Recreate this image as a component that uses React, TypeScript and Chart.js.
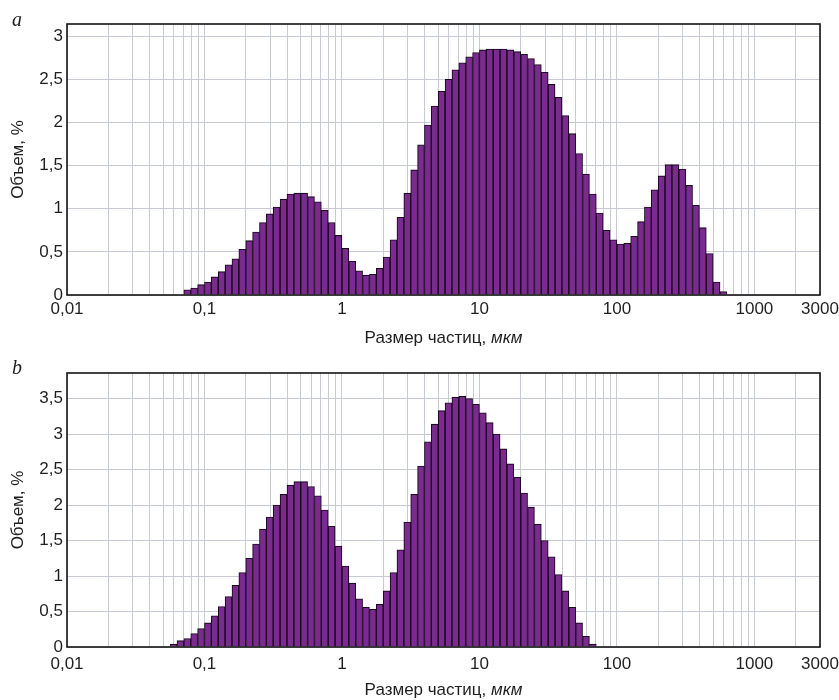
import React, { useEffect, useRef } from 'react';
import { Chart, registerables } from 'chart.js';

Chart.register(...registerables);

// ---- data -------------------------------------------------------------
// Size grid of the analyser: log-spaced bins, 20 bins per decade from 0.01 µm
const LOG_MIN = -2; // log10(0.01)
const BIN_STEP = 0.05; // decades per bin
const X_MIN = 0.01;
const X_MAX = 3000;
const X_LABELS = [0.01, 0.1, 1, 10, 100, 1000, 3000];
const GRID_DECADES = [-2, -1, 0, 1, 2, 3];
const GRID_MULTIPLIERS = [1, 2, 3, 4, 5, 6, 7, 8, 9];

// panel a: index of first non-empty bin and volume % per bin
const FIRST_BIN_A = 17;
const VOLUME_A = [
  0.06, 0.08, 0.12, 0.15, 0.21, 0.27, 0.35, 0.42, 0.53, 0.63,
  0.73, 0.84, 0.94, 1.02, 1.11, 1.17, 1.18, 1.18, 1.14, 1.08,
  0.98, 0.84, 0.69, 0.54, 0.39, 0.28, 0.23, 0.24, 0.31, 0.44,
  0.64, 0.90, 1.18, 1.45, 1.74, 1.97, 2.19, 2.36, 2.50, 2.61,
  2.69, 2.76, 2.81, 2.84, 2.85, 2.85, 2.85, 2.84, 2.82, 2.79,
  2.74, 2.67, 2.58, 2.44, 2.29, 2.08, 1.87, 1.64, 1.40, 1.17,
  0.95, 0.75, 0.64, 0.59, 0.60, 0.68, 0.85, 1.02, 1.22, 1.38,
  1.51, 1.51, 1.46, 1.27, 1.04, 0.78, 0.48, 0.15, 0.04,
];

// panel b
const FIRST_BIN_B = 15;
const VOLUME_B = [
  0.04, 0.09, 0.12, 0.19, 0.26, 0.34, 0.44, 0.57, 0.71, 0.87,
  1.05, 1.25, 1.45, 1.66, 1.83, 2.00, 2.15, 2.28, 2.33, 2.33,
  2.26, 2.13, 1.93, 1.70, 1.42, 1.14, 0.90, 0.68, 0.56, 0.53,
  0.60, 0.79, 1.05, 1.37, 1.76, 2.15, 2.55, 2.89, 3.14, 3.33,
  3.44, 3.52, 3.53, 3.50, 3.42, 3.30, 3.16, 3.00, 2.79, 2.58,
  2.39, 2.17, 1.97, 1.73, 1.50, 1.27, 1.02, 0.79, 0.56, 0.34,
  0.15, 0.04,
];

const Y_MAX_A = 3.14;
const Y_MAX_B = 3.86;
const Y_STEP = 0.5;

const Y_TITLE = 'Объем, %';
const X_TITLE_MAIN = 'Размер частиц, ';
const X_TITLE_UNIT = 'мкм';

// ---- styles -------------------------------------------------------------
const BAR_FILL = '#7b2a90';
const BAR_EDGE = '#1c0a22';
const GRID_COLOR = '#c7cad2';
const TEXT_COLOR = '#1f1f1f';
const FONT_FAMILY = '"Liberation Sans", Arial, Helvetica, sans-serif';

const GRID_TICKS: number[] = [];
GRID_DECADES.forEach((d) => {
  GRID_MULTIPLIERS.forEach((m) => {
    const v = Number((m * Math.pow(10, d)).toPrecision(6));
    if (v < X_MAX) GRID_TICKS.push(v);
  });
});
GRID_TICKS.push(X_MAX);

const isLabel = (v: number) => X_LABELS.some((l) => Math.abs(l - v) / l < 1e-6);
const fmt = (v: number) => String(v).replace('.', ',');

const framePlugin = {
  id: 'frame',
  afterDatasetsDraw(chart: any) {
    const { ctx, chartArea } = chart;
    const { left, top, right, bottom } = chartArea;
    ctx.save();
    ctx.strokeStyle = '#141414';
    ctx.lineWidth = 1.6;
    ctx.strokeRect(left, top, right - left, bottom - top);
    ctx.restore();
  },
};

const CANVAS_W = 839;
const CANVAS_H = 350;

type PanelProps = {
  values: number[];
  firstBin: number;
  yMax: number;
  padTop: number;
  axisHeight: number;
  labelPad: number;
};

function Panel({ values, firstBin, yMax, padTop, axisHeight, labelPad }: PanelProps) {
  const ref = useRef<HTMLCanvasElement | null>(null);
  useEffect(() => {
    if (!ref.current) return;
    const points = values.map((v, i) => ({
      x: Math.pow(10, LOG_MIN + (firstBin + i + 0.5) * BIN_STEP),
      y: v,
    }));
    const tickFont = { family: FONT_FAMILY, size: 17 };
    const chart = new Chart(ref.current, {
      type: 'bar',
      data: {
        datasets: [
          {
            data: points as any,
            xAxisID: 'xb',
            yAxisID: 'y',
            backgroundColor: BAR_FILL,
            borderColor: BAR_EDGE,
            borderWidth: 1.1,
            borderSkipped: 'start',
            barPercentage: 1,
            categoryPercentage: 1,
          } as any,
        ],
      },
      options: {
        animation: false,
        responsive: false,
        maintainAspectRatio: false,
        layout: { padding: { left: 0, right: 19, top: padTop, bottom: 0 } },
        plugins: {
          legend: { display: false },
          tooltip: { enabled: false },
          title: { display: false },
        },
        scales: {
          x: {
            type: 'logarithmic',
            position: 'bottom',
            min: X_MIN,
            max: X_MAX,
            offset: false,
            grid: { offset: false, color: GRID_COLOR, lineWidth: 1, drawTicks: false },
            border: { display: false },
            ticks: {
              autoSkip: false,
              maxRotation: 0,
              minRotation: 0,
              padding: labelPad,
              color: TEXT_COLOR,
              font: tickFont,
              callback: (v: any) => (isLabel(Number(v)) ? fmt(Number(v)) : ''),
            },
            afterBuildTicks: (axis: any) => {
              axis.ticks = GRID_TICKS.map((v) => ({ value: v }));
            },
            afterFit: (axis: any) => {
              axis.height = axisHeight;
              axis.paddingLeft = 0;
              axis.paddingRight = 0;
            },
          } as any,
          xb: {
            type: 'logarithmic',
            position: 'bottom',
            display: false,
            min: X_MIN,
            max: X_MAX,
            offset: false,
            grid: { offset: false },
            afterBuildTicks: (axis: any) => {
              axis.ticks = [{ value: X_MIN }, { value: X_MAX }];
            },
            afterFit: (axis: any) => {
              axis.paddingLeft = 0;
              axis.paddingRight = 0;
            },
          } as any,
          y: {
            type: 'linear',
            min: 0,
            max: yMax,
            grid: { color: GRID_COLOR, lineWidth: 1, drawTicks: false },
            border: { display: false },
            ticks: {
              stepSize: Y_STEP,
              includeBounds: false,
              padding: 4,
              color: TEXT_COLOR,
              font: tickFont,
              callback: (v: any) => fmt(Number(v)),
            },
            title: {
              display: true,
              text: Y_TITLE,
              color: TEXT_COLOR,
              font: { family: FONT_FAMILY, size: 17 },
              padding: { top: 8, bottom: 0 },
            },
            afterFit: (axis: any) => {
              axis.width = 67;
              axis.paddingTop = 0;
              axis.paddingBottom = 0;
            },
          } as any,
        },
      },
      plugins: [framePlugin],
    });
    return () => chart.destroy();
  }, []);
  return <canvas ref={ref} width={CANVAS_W} height={CANVAS_H} style={{ display: 'block' }} />;
}

const letterStyle: React.CSSProperties = {
  position: 'absolute',
  left: 12,
  fontFamily: '"Liberation Serif", "Times New Roman", serif',
  fontStyle: 'italic',
  fontSize: 20,
  lineHeight: '20px',
  color: TEXT_COLOR,
};

const xTitleStyle: React.CSSProperties = {
  position: 'absolute',
  left: 67,
  width: 753,
  textAlign: 'center',
  fontFamily: FONT_FAMILY,
  fontSize: 17,
  lineHeight: '20px',
  color: TEXT_COLOR,
  whiteSpace: 'nowrap',
};

function XTitle({ top }: { top: number }) {
  return (
    <div style={{ ...xTitleStyle, top }}>
      {X_TITLE_MAIN}
      <span style={{ fontStyle: 'italic' }}>{X_TITLE_UNIT}</span>
    </div>
  );
}

export default function App() {
  return (
    <div
      style={{
        position: 'absolute',
        left: 0,
        top: 0,
        width: CANVAS_W,
        height: 700,
        background: '#ffffff',
        overflow: 'hidden',
      }}
    >
      <div style={{ position: 'absolute', left: 0, top: 0 }}>
        <Panel values={VOLUME_A} firstBin={FIRST_BIN_A} yMax={Y_MAX_A} padTop={24} axisHeight={55} labelPad={4} />
      </div>
      <div style={{ position: 'absolute', left: 0, top: 350 }}>
        <Panel values={VOLUME_B} firstBin={FIRST_BIN_B} yMax={Y_MAX_B} padTop={23} axisHeight={53} labelPad={7} />
      </div>
      <div style={{ ...letterStyle, top: 9 }}>a</div>
      <div style={{ ...letterStyle, top: 357 }}>b</div>
      <XTitle top={328} />
      <XTitle top={680} />
    </div>
  );
}
